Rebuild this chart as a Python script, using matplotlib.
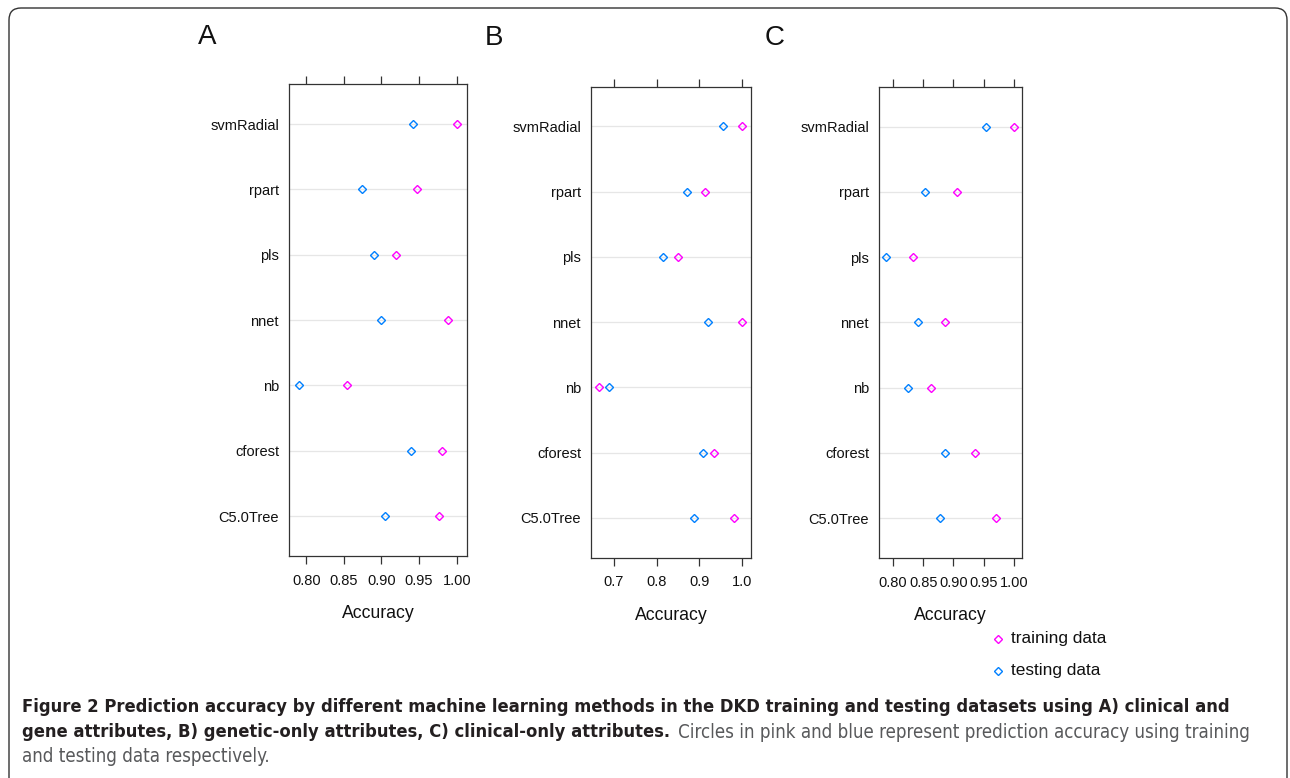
import matplotlib
matplotlib.use('Agg')
import matplotlib.pyplot as plt
from matplotlib import font_manager as fm
from matplotlib.patches import FancyBboxPatch
from matplotlib.transforms import IdentityTransform

# ---------------- data ----------------
methods = ['C5.0Tree', 'cforest', 'nb', 'nnet', 'pls', 'rpart', 'svmRadial']

train_A = [0.976, 0.981, 0.854, 0.988, 0.919, 0.947, 1.000]
test_A = [0.904, 0.939, 0.790, 0.899, 0.890, 0.874, 0.942]

train_B = [0.981, 0.935, 0.666, 1.000, 0.850, 0.914, 1.000]
test_B = [0.888, 0.909, 0.688, 0.920, 0.814, 0.871, 0.956]

train_C = [0.970, 0.936, 0.863, 0.886, 0.833, 0.906, 1.000]
test_C = [0.878, 0.886, 0.825, 0.842, 0.789, 0.853, 0.954]

ticks_A = [0.80, 0.85, 0.90, 0.95, 1.00]
ticklabels_A = ['0.80', '0.85', '0.90', '0.95', '1.00']
ticks_B = [0.7, 0.8, 0.9, 1.0]
ticklabels_B = ['0.7', '0.8', '0.9', '1.0']
ticks_C = [0.80, 0.85, 0.90, 0.95, 1.00]
ticklabels_C = ['0.80', '0.85', '0.90', '0.95', '1.00']

panel_letters = ['A', 'B', 'C']
series_labels = ['training data', 'testing data']
xlabel = 'Accuracy'

caption_bold_1 = ('Figure 2 Prediction accuracy by different machine learning methods in the DKD '
                  'training and testing datasets using A) clinical and')
caption_bold_2 = 'gene attributes, B) genetic-only attributes, C) clinical-only attributes.'
caption_reg_2 = 'Circles in pink and blue represent prediction accuracy using training'
caption_reg_3 = 'and testing data respectively.'

# ---------------- style ----------------
W, H = 1290, 778
C_TRAIN = '#ff00ff'
C_TEST = '#0080ff'
FONT = 'Liberation Sans'
plt.rcParams['font.family'] = [FONT, 'DejaVu Sans']

names = {f.name for f in fm.fontManager.ttflist}
cond_family, cond_stretch = FONT, 'normal'
if 'Liberation Sans Narrow' in names:
    cond_family = 'Liberation Sans Narrow'
elif any(f.name == 'DejaVu Sans' and f.stretch == 'condensed' for f in fm.fontManager.ttflist):
    cond_family, cond_stretch = 'DejaVu Sans', 'condensed'

fig = plt.figure(figsize=(W / 100, H / 100), dpi=100)


def fig_rect(l, t, r, b):
    return [l / W, 1 - b / H, (r - l) / W, (b - t) / H]


panels = [
    dict(rect=(289, 84.3, 467, 556), xlim=(0.777, 1.0137), ticks=ticks_A, tl=ticklabels_A,
         train=train_A, test=test_A, letter_xy=(207, 37), xlab_y=613),
    dict(rect=(591, 86.7, 751.3, 557.5), xlim=(0.647, 1.021), ticks=ticks_B, tl=ticklabels_B,
         train=train_B, test=test_B, letter_xy=(494, 38), xlab_y=615),
    dict(rect=(879, 86.7, 1022.3, 558), xlim=(0.777, 1.0137), ticks=ticks_C, tl=ticklabels_C,
         train=train_C, test=test_C, letter_xy=(775, 38), xlab_y=615),
]

ypos = list(range(1, len(methods) + 1))

for p, letter in zip(panels, panel_letters):
    l, t, r, b = p['rect']
    ax = fig.add_axes(fig_rect(l, t, r, b))
    ax.set_xlim(*p['xlim'])
    ax.set_ylim(0.39, len(methods) + 0.61)
    for y in ypos:
        ax.axhline(y, color='#e6e6e6', lw=0.9, zorder=0)
    ax.plot(p['test'], ypos, ls='none', marker='D', ms=4.2, mfc='none', mec=C_TEST, mew=1.0, zorder=3)
    ax.plot(p['train'], ypos, ls='none', marker='D', ms=4.2, mfc='none', mec=C_TRAIN, mew=1.0, zorder=3)
    ax.set_yticks(ypos)
    ax.set_yticklabels(methods, fontsize=10.5, color='#111111')
    ax.tick_params(axis='y', length=0, pad=7.2)
    ax.set_xticks(p['ticks'])
    ax.set_xticklabels(p['tl'], fontsize=10.5, color='#111111')
    ax.tick_params(axis='x', direction='out', length=5.8, width=0.9, color='#333333',
                   top=True, bottom=True, labeltop=False, labelbottom=True, pad=7)
    for s in ax.spines.values():
        s.set_color('#333333')
        s.set_linewidth(0.9)
    ax.set_xlabel(xlabel, fontsize=12.7, va='center', color='#111111')
    ax.xaxis.set_label_coords(0.5, (b - p['xlab_y']) / (b - t))
    lx, ly = p['letter_xy']
    fig.text(lx / W, 1 - ly / H, letter, fontsize=20, ha='center', va='center', color='#111111')

# legend (lattice-style key)
for lab, col, y in zip(series_labels, [C_TRAIN, C_TEST], [639, 671]):
    fig.lines.append(plt.Line2D([998 / W], [1 - y / H], transform=fig.transFigure, ls='none',
                                marker='D', ms=3.8, mfc='none', mec=col, mew=1.0))
    fig.text(1011 / W, 1 - y / H, lab, fontsize=12.4, ha='left', va='center', color='#111111')

# rounded frame
frame = FancyBboxPatch((9, -30), 1287 - 9, (H - 8) + 30, boxstyle='round,pad=0,rounding_size=12',
                       transform=IdentityTransform(), fill=False, ec='#333333', lw=1.0)
fig.add_artist(frame)

# caption
renderer = fig.canvas.get_renderer()


def fit_text(x, y, s, target_w, weight, color, size0=13):
    t = fig.text(x / W, 1 - y / H, s, fontsize=size0, fontweight=weight, family=[cond_family, 'DejaVu Sans'],
                 fontstretch=cond_stretch, ha='left', va='center', color=color)
    w = t.get_window_extent(renderer).width
    t.set_fontsize(size0 * target_w / w)
    return t


t1 = fit_text(22, 707, caption_bold_1, 1233 - 22, 'bold', '#231f20')
bsize = t1.get_fontsize()
t2 = fig.text(22 / W, 1 - 732 / H, caption_bold_2, fontsize=bsize, fontweight='bold',
              family=[cond_family, 'DejaVu Sans'], fontstretch=cond_stretch,
              ha='left', va='center', color='#231f20')
end2 = t2.get_window_extent(renderer).x1
t3 = fit_text(end2 + 8, 732, caption_reg_2, 1251 - (end2 + 8), 'normal', '#58595b')
rsize = t3.get_fontsize()
fig.text(22 / W, 1 - 757 / H, caption_reg_3, fontsize=rsize, family=[cond_family, 'DejaVu Sans'],
         fontstretch=cond_stretch, ha='left', va='center', color='#58595b')

fig.savefig('out.png', dpi=100)
